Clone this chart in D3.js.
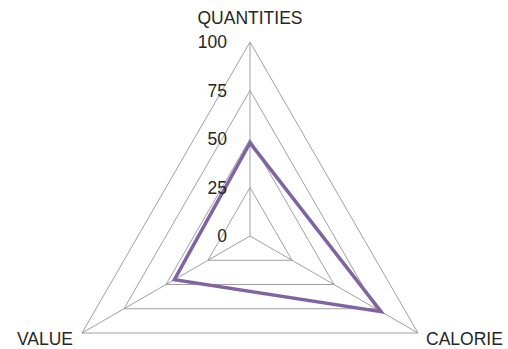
<!DOCTYPE html>
<html>
<head>
<meta charset="utf-8">
<script src="https://cdn.jsdelivr.net/npm/d3@7"></script>
<style>
  html, body { margin: 0; padding: 0; background: #fff; }
  svg { display: block; }
  text { font-family: "Liberation Sans", Arial, sans-serif; fill: #262626; }
</style>
</head>
<body>
<svg id="chart" width="508" height="349"></svg>
<script>
// Radar chart: three axes, one series
const categories = ["QUANTITIES", "CALORIE", "VALUE"];
const seriesValues = [48, 78, 45];
const tickValues = [0, 25, 50, 75, 100];

const width = 508, height = 349;
const cx = 250, cy = 236, radius = 194;

const svg = d3.select("#chart");
const g = svg.append("g").attr("transform", `translate(${cx},${cy})`);

const r = d3.scaleLinear().domain([0, 100]).range([0, radius]);
const angle = d3.scalePoint().domain(categories).range([0, 2 * Math.PI * (categories.length - 1) / categories.length]);

const pt = (cat, v) => {
  const a = angle(cat) - Math.PI / 2;
  return [r(v) * Math.cos(a), r(v) * Math.sin(a)];
};

const lineClosed = d3.line().curve(d3.curveLinearClosed);

// Grid rings
g.selectAll("path.ring")
  .data(tickValues.filter(t => t > 0))
  .join("path")
  .attr("class", "ring")
  .attr("d", t => lineClosed(categories.map(c => pt(c, t))))
  .attr("fill", "none")
  .attr("stroke", "#a0a0a0")
  .attr("stroke-width", 1);

// Spokes
g.selectAll("line.spoke")
  .data(categories)
  .join("line")
  .attr("class", "spoke")
  .attr("x1", 0).attr("y1", 0)
  .attr("x2", c => pt(c, 100)[0])
  .attr("y2", c => pt(c, 100)[1])
  .attr("stroke", "#a0a0a0")
  .attr("stroke-width", 1);

// Series line
g.append("path")
  .attr("d", lineClosed(categories.map((c, i) => pt(c, seriesValues[i]))))
  .attr("fill", "none")
  .attr("stroke", "#8064a2")
  .attr("stroke-width", 3.5)
  .attr("stroke-linejoin", "miter");

// Tick labels along the first axis
g.selectAll("text.tick")
  .data(tickValues)
  .join("text")
  .attr("class", "tick")
  .attr("x", -23)
  .attr("y", t => -r(t))
  .attr("dy", "0.35em")
  .attr("text-anchor", "end")
  .style("font-size", "17.5px")
  .text(t => t);

// Category labels
const labelPos = {
  "QUANTITIES": { x: 0, y: -r(100) - 18, anchor: "middle" },
  "CALORIE": { x: pt("CALORIE", 100)[0] + 8, y: pt("CALORIE", 100)[1] + 12, anchor: "start" },
  "VALUE": { x: pt("VALUE", 100)[0] - 9, y: pt("VALUE", 100)[1] + 12, anchor: "end" }
};
g.selectAll("text.cat")
  .data(categories)
  .join("text")
  .attr("class", "cat")
  .attr("x", c => labelPos[c].x)
  .attr("y", c => labelPos[c].y)
  .attr("text-anchor", c => labelPos[c].anchor)
  .style("font-size", "17.5px")
  .text(c => c);
</script>
</body>
</html>
